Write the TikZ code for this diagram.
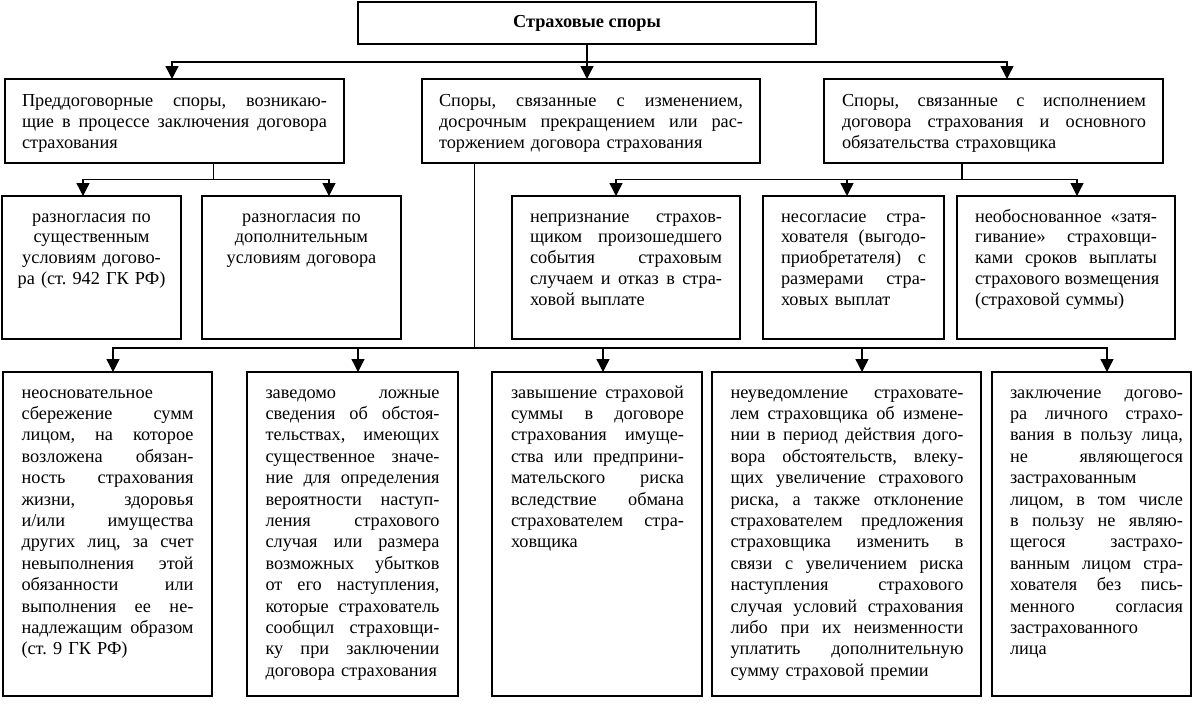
\documentclass[tikz,border=0pt]{standalone}
\usepackage{fontspec}
\setmainfont{Liberation Serif}
\usetikzlibrary{arrows.meta}
\frenchspacing
\newcommand\jline[1]{\hbox to\hsize{\spaceskip=0.25em plus 1fil\xspaceskip=0.25em plus 1fil\vrule height 14pt depth 0pt width 0pt #1}}
\newcommand\lline[1]{\hbox to\hsize{\vrule height 14pt depth 0pt width 0pt #1\hfil}}
\newcommand\cenline[1]{\hbox to\hsize{\vrule height 14pt depth 0pt width 0pt\hfil #1\hfil}}
\tikzset{
  box/.style={draw, line width=1.7pt, inner sep=0pt, outer sep=0pt, anchor=north west},
  ln/.style={line width=1.4pt},
  arr/.style={line width=1.4pt, -{Triangle[length=13pt,width=13pt]}},
  txt/.style={inner sep=0pt, outer sep=0pt, anchor=north west, font=\fontsize{18.3}{20.8}\selectfont},
  txtb/.style={txt, font=\fontsize{18.3}{21.4}\selectfont},
}
\begin{document}
\begin{tikzpicture}[x=1pt,y=-1pt]
\useasboundingbox (0,0) rectangle (1200,707);
\fill[white] (0,0) rectangle (1200,707);
% boxes
\node[box, minimum width=458pt, minimum height=42pt] (T) at (358,2) {};
\node[box, minimum width=339pt, minimum height=84pt] (A) at (5,79) {};
\node[box, minimum width=338pt, minimum height=84pt] (B) at (422,79) {};
\node[box, minimum width=339pt, minimum height=84pt] (C) at (824,79) {};
\node[box, minimum width=179pt, minimum height=143pt] (D) at (2,196) {};
\node[box, minimum width=199pt, minimum height=143pt] (E) at (202,196) {};
\node[box, minimum width=228pt, minimum height=143pt] (F) at (512,196) {};
\node[box, minimum width=181pt, minimum height=143pt] (G) at (763,196) {};
\node[box, minimum width=218pt, minimum height=143pt] (H) at (957,196) {};
\node[box, minimum width=209pt, minimum height=324pt] (I) at (3,372) {};
\node[box, minimum width=211pt, minimum height=324pt] (J) at (247,372) {};
\node[box, minimum width=210pt, minimum height=324pt] (K) at (492,372) {};
\node[box, minimum width=269pt, minimum height=324pt] (L) at (712,372) {};
\node[box, minimum width=199pt, minimum height=324pt] (M) at (992,372) {};
% texts
\node[inner sep=0pt, font=\bfseries\fontsize{18.3}{20}\selectfont] (tT) at (T.center) {Страховые споры};
\node[txt, text width=305pt] (tA) at (22,92.7) {%
\jline{Преддоговорные споры, возникаю-}
\jline{щие в процессе заключения договора}
\lline{страхования}};
\node[txt, text width=304pt] (tB) at (439,92.7) {%
\jline{Споры, связанные с изменением,}
\jline{досрочным прекращением или рас-}
\lline{торжением договора страхования}};
\node[txt, text width=304pt] (tC) at (842,92.7) {%
\jline{Споры, связанные с исполнением}
\jline{договора страхования и основного}
\lline{обязательства страховщика}};
\node[txt, text width=169pt] (tD) at (7,208) {%
\cenline{разногласия по}
\cenline{существенным}
\cenline{условиям догово-}
\cenline{ра (ст. 942 ГК РФ)}};
\node[txt, text width=189pt] (tE) at (207,208) {%
\cenline{разногласия по}
\cenline{дополнительным}
\cenline{условиям договора}};
\node[txt, text width=192pt] (tF) at (530,208) {%
\jline{непризнание страхов-}
\jline{щиком произошедшего}
\jline{события страховым}
\jline{случаем и отказ в стра-}
\lline{ховой выплате}};
\node[txt, text width=145pt] (tG) at (781,208) {%
\jline{несогласие стра-}
\jline{хователя (выгодо-}
\jline{приобретателя) с}
\jline{размерами стра-}
\lline{ховых выплат}};
\node[txt, text width=182pt] (tH) at (975,208) {%
\jline{необоснованное «затя-}
\jline{гивание» страховщи-}
\jline{ками сроков выплаты}
\jline{страхового возмещения}
\lline{(страховой суммы)}};
\node[txtb, text width=172pt] (tI) at (21.5,384) {%
\lline{неосновательное}
\jline{сбережение сумм}
\jline{лицом, на которое}
\jline{возложена обязан-}
\jline{ность страхования}
\jline{жизни, здоровья}
\jline{и/или имущества}
\jline{других лиц, за счет}
\jline{невыполнения этой}
\jline{обязанности или}
\jline{выполнения ее не-}
\jline{надлежащим образом}
\lline{(ст. 9 ГК РФ)}};
\node[txtb, text width=174pt] (tJ) at (265.5,384) {%
\jline{заведомо ложные}
\jline{сведения об обстоя-}
\jline{тельствах, имеющих}
\jline{существенное значе-}
\jline{ние для определения}
\jline{вероятности наступ-}
\jline{ления страхового}
\jline{случая или размера}
\jline{возможных убытков}
\jline{от его наступления,}
\jline{которые страхователь}
\jline{сообщил страховщи-}
\jline{ку при заключении}
\lline{договора страхования}};
\node[txtb, text width=173pt] (tK) at (511,384) {%
\jline{завышение страховой}
\jline{суммы в договоре}
\jline{страхования имуще-}
\jline{ства или предприни-}
\jline{мательского риска}
\jline{вследствие обмана}
\jline{страхователем стра-}
\lline{ховщика}};
\node[txtb, text width=233pt] (tL) at (730.5,384) {%
\jline{неуведомление страховате-}
\jline{лем страховщика об измене-}
\jline{нии в период действия дого-}
\jline{вора обстоятельств, влеку-}
\jline{щих увеличение страхового}
\jline{риска, а также отклонение}
\jline{страхователем предложения}
\jline{страховщика изменить в}
\jline{связи с увеличением риска}
\jline{наступления страхового}
\jline{случая условий страхования}
\jline{либо при их неизменности}
\jline{уплатить дополнительную}
\lline{сумму страховой премии}};
\node[txtb, text width=173pt] (tM) at (1010,384) {%
\jline{заключение догово-}
\jline{ра личного страхо-}
\jline{вания в пользу лица,}
\jline{не являющегося}
\lline{застрахованным}
\jline{лицом, в том числе}
\jline{в пользу не являю-}
\jline{щегося застрахо-}
\jline{ванным лицом стра-}
\jline{хователя без пись-}
\jline{менного согласия}
\lline{застрахованного}
\lline{лица}};
% connector coordinates
\coordinate (bus1) at (0,62);
\coordinate (bus2) at (0,179.5);
\coordinate (bus3) at (0,348);
\coordinate (xA) at (172,0);
\coordinate (xC) at (1007,0);
\coordinate (xAd) at (213.5,0);
\coordinate (xD) at (83,0);
\coordinate (xE) at (329,0);
\coordinate (xCd) at (962,0);
\coordinate (xF) at (616,0);
\coordinate (xG) at (847,0);
\coordinate (xH) at (1077,0);
\coordinate (xBd) at (474.5,0);
\coordinate (xI) at (113,0);
\coordinate (xJ) at (358,0);
\coordinate (xK) at (603,0);
\coordinate (xL) at (862,0);
\coordinate (xM) at (1107,0);
% connectors
\draw[arr] (T.south) -- (T.south |- B.north);
\draw[arr] (T.south |- bus1) -| (xA |- A.north);
\draw[arr] (T.south |- bus1) -| (xC |- C.north);
\draw[ln] (xAd |- A.south) -- (xAd |- bus2);
\draw[arr] (xAd |- bus2) -| (xD |- D.north);
\draw[arr] (xAd |- bus2) -| (xE |- E.north);
\draw[ln] (xCd |- C.south) -- (xCd |- bus2);
\draw[arr] (xCd |- bus2) -| (xF |- F.north);
\draw[arr] (xCd |- bus2) -| (xH |- H.north);
\draw[arr] (xG |- bus2) -- (xG |- G.north);
\draw[ln] (xBd |- B.south) -- (xBd |- bus3);
\draw[arr] (xBd |- bus3) -| (xI |- I.north);
\draw[arr] (xBd |- bus3) -| (xM |- M.north);
\draw[arr] (xJ |- bus3) -- (xJ |- J.north);
\draw[arr] (xK |- bus3) -- (xK |- K.north);
\draw[arr] (xL |- bus3) -- (xL |- L.north);
\end{tikzpicture}
\end{document}
